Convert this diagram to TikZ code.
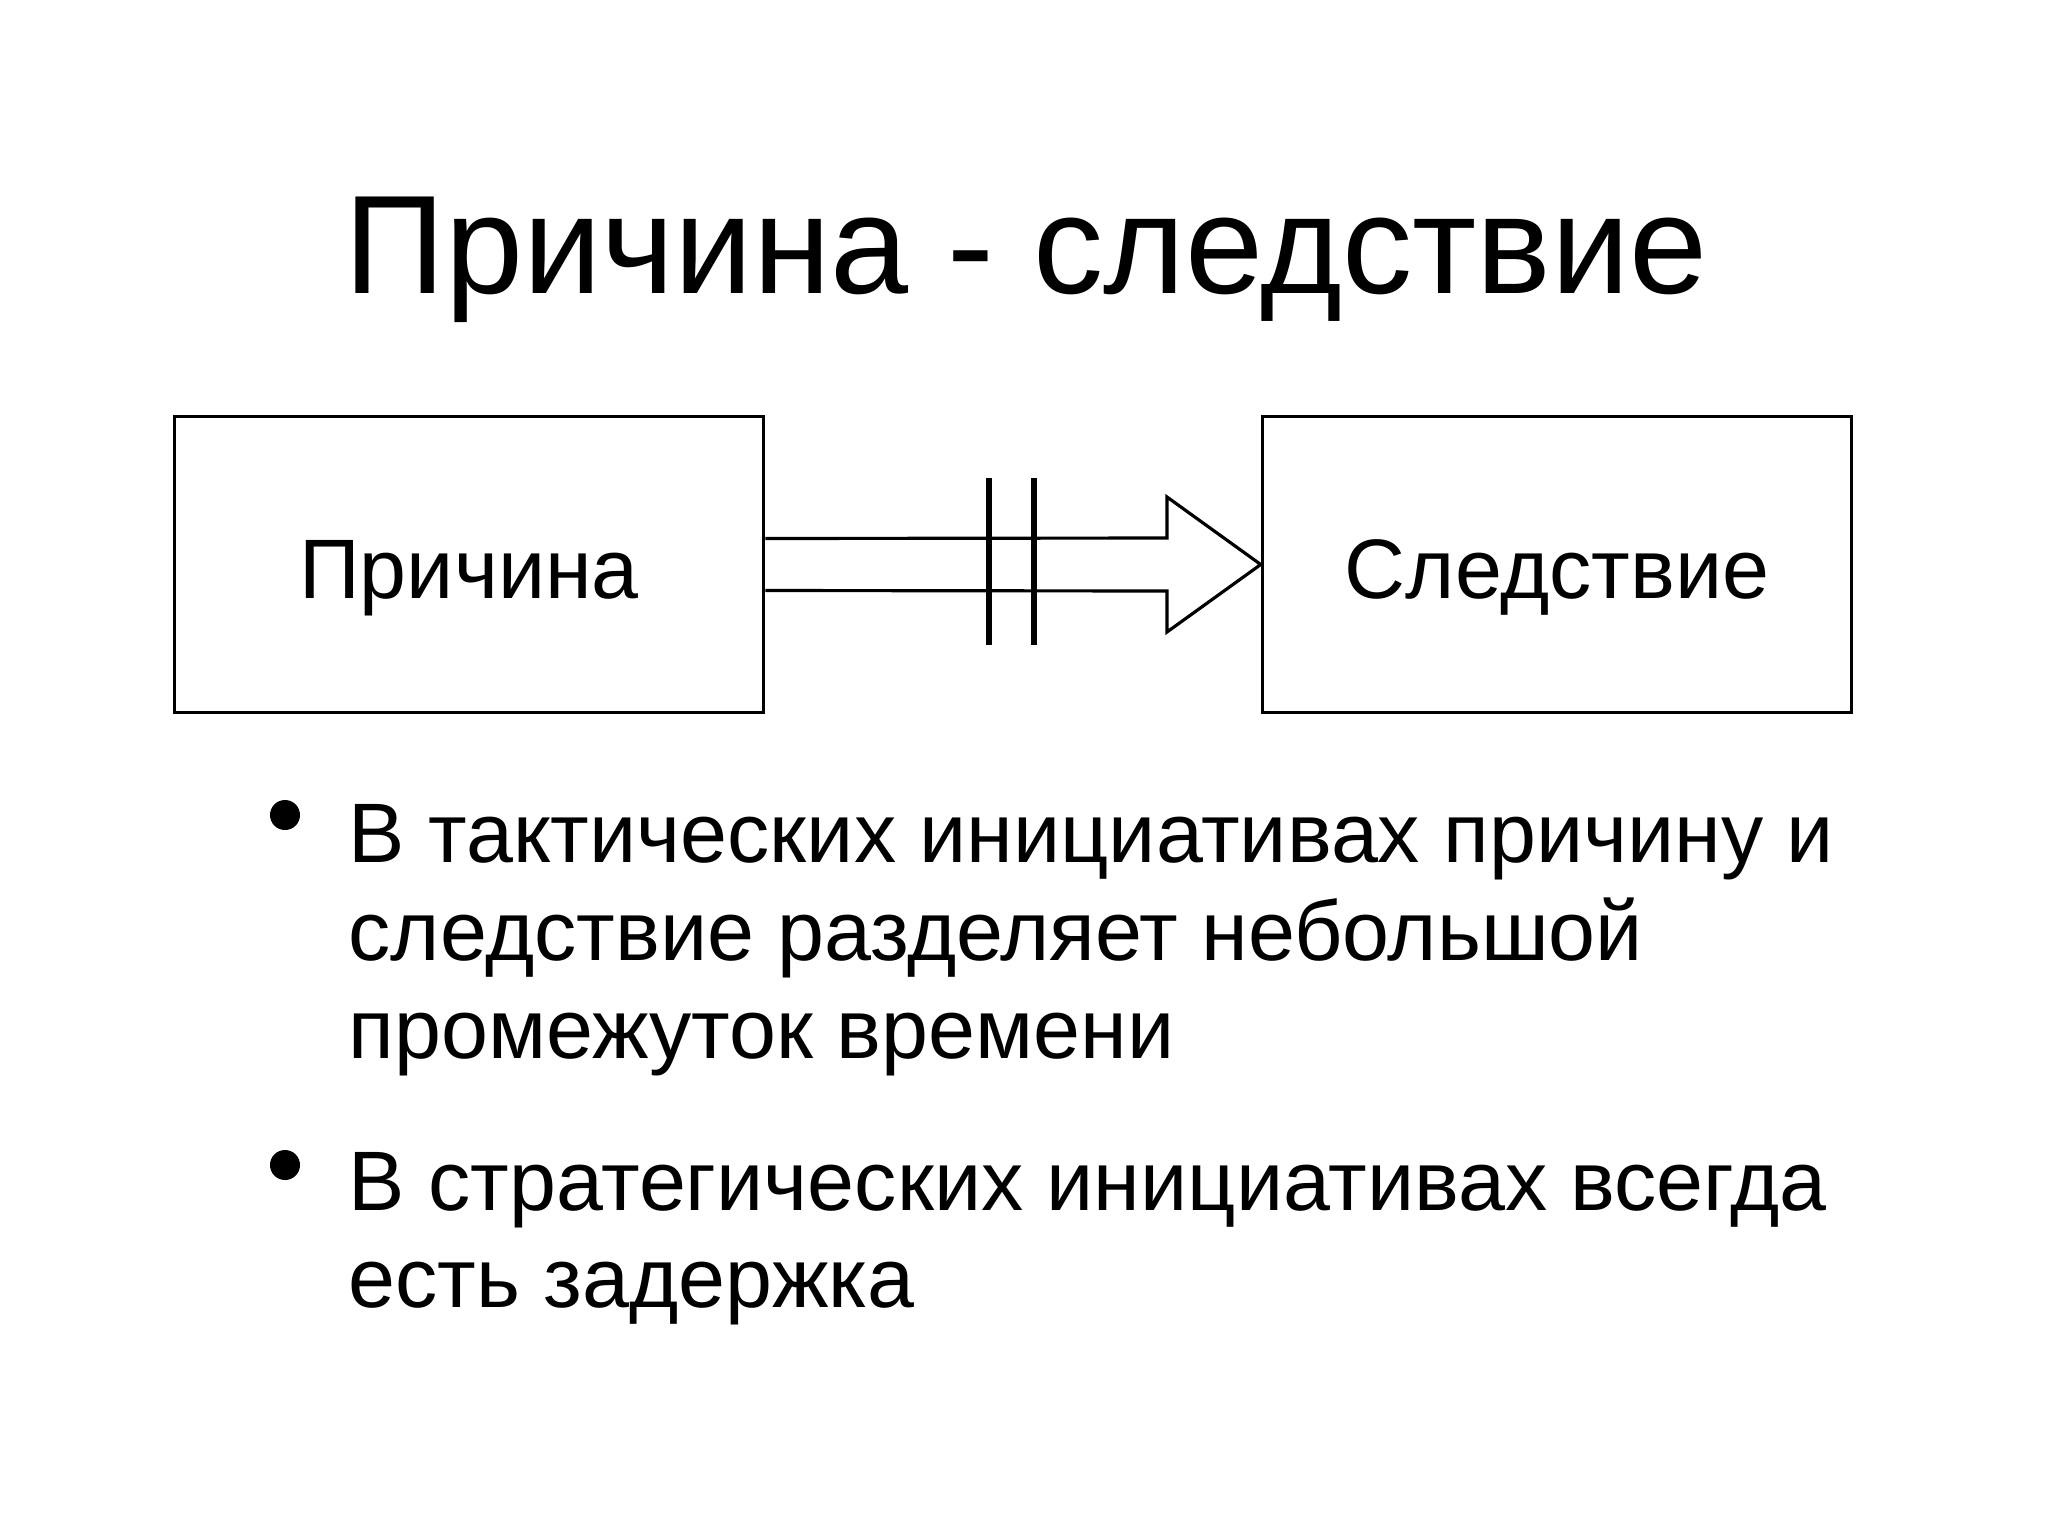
\documentclass[tikz,border=0pt]{standalone}
\usepackage{fontspec}
\setmainfont{Liberation Sans}
\usetikzlibrary{calc}
\begin{document}
\begin{tikzpicture}[x=0.01cm,y=-0.01cm,
  box/.style={draw,line width=0.9pt,minimum width=5.89cm,minimum height=2.96cm},
  lbl/.style={inner sep=0pt,anchor=base,font=\fontsize{24}{28}\selectfont},
  txt/.style={anchor=base west,inner sep=0pt,font=\fontsize{24}{28}\selectfont},
  dot/.style={fill=black,circle,inner sep=0pt,minimum size=0.3cm}]
\useasboundingbox (0,0) rectangle (2048,1536);
\node[anchor=base,inner sep=0pt,font=\fontsize{39.9}{44}\selectfont] (title) at (1026,293) {Причина - следствие};
\node[box] (a) at (469,564.5) {};
\node[lbl] (at) at (469,598) {Причина};
\node[box] (b) at (1557,564.5) {};
\node[lbl] (bt) at (1557,598) {Следствие};
\draw[line width=0.9pt,fill=white] ($(a.east)+(0,-26)$) -- (1167,538) -- (1167,497) -- (b.west) -- (1167,632) -- (1167,591) -- ($(a.east)+(0,26)$);
\draw[line width=1.8pt] (989,478) coordinate (p1) -- (989,645) coordinate (p2);
\draw[line width=1.8pt] (1034,478) coordinate (q1) -- (1034,645) coordinate (q2);
\node[dot] (d1) at (285,815) {};
\node[dot] (d2) at (285,1165) {};
\node[txt] (l1) at (348,862) {В тактических инициативах причину и};
\node[txt] (l2) at (348,960) {следствие разделяет небольшой};
\node[txt] (l3) at (348,1058) {промежуток времени};
\node[txt] (l4) at (348,1210) {В стратегических инициативах всегда};
\node[txt] (l5) at (348,1307) {есть задержка};
\end{tikzpicture}
\end{document}
